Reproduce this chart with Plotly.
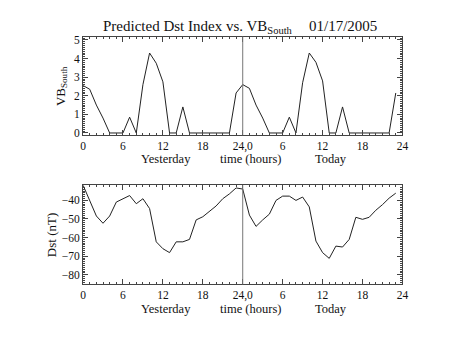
import plotly.graph_objects as go

hours = list(range(48))
vb_south = [2.55, 2.35, 1.5, 0.8, 0, 0, 0, 0.85, 0, 2.6, 4.3, 3.75, 2.75, 0, 0, 1.4, 0, 0, 0, 0, 0, 0, 0, 2.15,
            2.6, 2.4, 1.5, 0.8, 0, 0, 0, 0.85, 0, 2.7, 4.3, 3.8, 2.8, 0, 0, 1.4, 0, 0, 0, 0, 0, 0, 0, 2.15]
dst = [-31.8, -40.5, -48.4, -52.3, -48.4, -40.9, -39.1, -37.4, -41.8, -39.1, -44.4, -62.3, -66.0, -68.1,
       -62.3, -62.3, -61.0, -50.5, -48.8, -45.8, -43.0, -39.1, -36.5, -33.3,
       -33.9, -47.9, -54.0, -50.5, -47.4, -40.0, -37.7, -37.7, -40.0, -38.2, -43.5, -61.9, -68.1, -71.2,
       -64.6, -65.1, -61.0, -49.1, -50.2, -49.1, -45.3, -42.3, -38.8, -36.1]
xtick_vals = [0, 6, 12, 18, 24, 30, 36, 42, 48]
xtick_text = ["0", "6", "12", "18", "24,0", "6", "12", "18", "24"]
day_labels = ["Yesterday", "time (hours)", "Today"]
day_pos = [12.4, 25.2, 37.3]

FONT = "Liberation Serif"
AX = "#444444"

fig = go.Figure()
fig.add_trace(go.Scatter(x=hours, y=vb_south, mode="lines", line=dict(color="#222222", width=1),
                         xaxis="x", yaxis="y", showlegend=False))
fig.add_trace(go.Scatter(x=hours, y=dst, mode="lines", line=dict(color="#222222", width=1),
                         xaxis="x2", yaxis="y2", showlegend=False))

xcommon = dict(range=[0, 48], tickvals=xtick_vals, ticktext=xtick_text, ticks="inside", ticklen=5,
               tickcolor=AX, showline=True, linecolor=AX, linewidth=1, mirror="allticks",
               showgrid=False, zeroline=False, tickfont=dict(family=FONT, size=11.5, color="#111"),
               minor=dict(dtick=1, ticks="inside", ticklen=2, tickcolor=AX, showgrid=False),
               domain=[0.1803, 0.8996], fixedrange=True)
ycommon = dict(ticks="inside", ticklen=5, tickcolor=AX, showline=True, linecolor=AX, linewidth=1,
               mirror="allticks", showgrid=False, zeroline=False,
               tickfont=dict(family=FONT, size=11.5, color="#111"), fixedrange=True)

fig.update_layout(
    width=453, height=340, margin=dict(l=0, r=0, t=0, b=0),
    paper_bgcolor="white", plot_bgcolor="white",
    xaxis=dict(**xcommon, anchor="y"),
    yaxis=dict(**ycommon, domain=[0.603, 0.899], range=[-0.12, 5.18], dtick=1,
               minor=dict(dtick=0.1, ticks="inside", ticklen=2, tickcolor=AX, showgrid=False), anchor="x"),
    xaxis2=dict(**xcommon, anchor="y2"),
    yaxis2=dict(**ycommon, domain=[0.155, 0.453], range=[-85.2, -31.8], tickvals=[-40, -50, -60, -70, -80],
                ticktext=["\u221240", "\u221250", "\u221260", "\u221270", "\u221280"],
                minor=dict(dtick=1, ticks="inside", ticklen=2, tickcolor=AX, showgrid=False), anchor="x2"),
    shapes=[
        dict(type="line", xref="x", yref="y domain", x0=24, x1=24, y0=0, y1=1, line=dict(color="#777777", width=1)),
        dict(type="line", xref="x2", yref="y2 domain", x0=24, x1=24, y0=0, y1=1, line=dict(color="#777777", width=1)),
    ],
)

ann = [
    dict(text="Predicted Dst Index vs. VB<sub>South</sub>", x=100 / 453, y=1 - 24 / 340,
         xref="paper", yref="paper", showarrow=False, font=dict(family=FONT, size=15, color="#111"),
         xanchor="left", yanchor="middle"),
    dict(text="01/17/2005", x=384 / 453, y=1 - 23 / 340,
         xref="paper", yref="paper", showarrow=False, font=dict(family=FONT, size=15, color="#111"),
         xanchor="right", yanchor="middle"),
    dict(text="VB<sub>South</sub>", x=59 / 453, y=1 - 85 / 340, xref="paper", yref="paper", showarrow=False,
         textangle=-90, font=dict(family=FONT, size=13, color="#111"), xanchor="center", yanchor="middle"),
    dict(text="Dst (nT)", x=49 / 453, y=1 - 237 / 340, xref="paper", yref="paper", showarrow=False,
         textangle=-90, font=dict(family=FONT, size=13, color="#111"), xanchor="center", yanchor="middle"),
]
for xa, ypix in (("x", 159), ("x2", 312)):
    for lbl, pos in zip(day_labels, day_pos):
        ann.append(dict(text=lbl, x=pos, xref=xa, y=1 - ypix / 340, yref="paper", showarrow=False,
                        font=dict(family=FONT, size=12.5, color="#111"), xanchor="center", yanchor="middle"))
fig.update_layout(annotations=ann)

fig.write_html("out.html")
